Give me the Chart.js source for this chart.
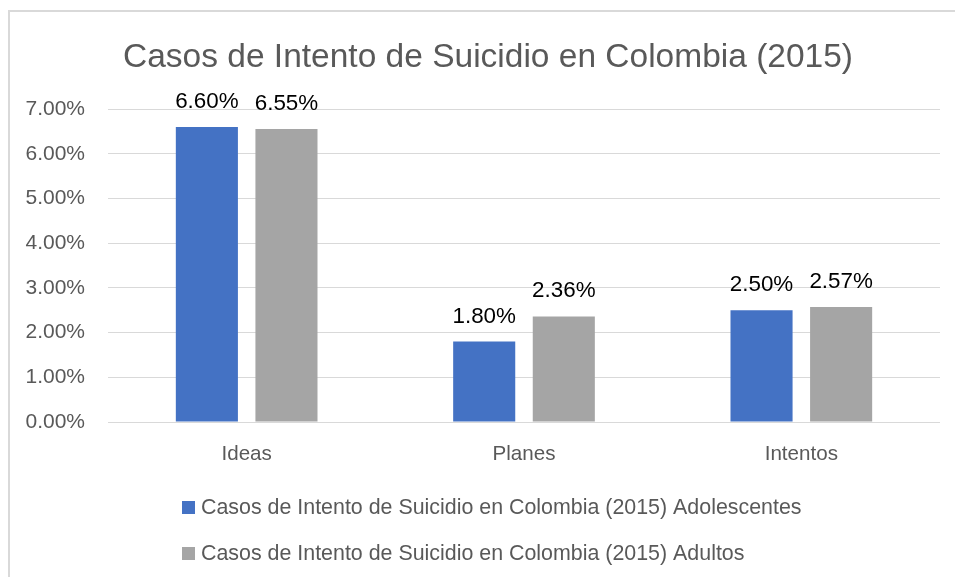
<!DOCTYPE html>
<html>
<head>
<meta charset="utf-8">
<script src="https://cdn.jsdelivr.net/npm/chart.js@4.4.1/dist/chart.umd.min.js"></script>
<style>
    html, body { margin: 0; padding: 0; background: #fff; }
    #wrap { position: relative; width: 955px; height: 577px; overflow: hidden; }
    #frame { position: absolute; left: 8px; top: 10px; right: -10px; bottom: -10px;
             border-left: 2px solid #d9d9d9; border-top: 2px solid #d9d9d9; }
    canvas { position: absolute; left: 0; top: 0; }
</style>
</head>
<body>
<div id="wrap">
    <div id="frame"></div>
    <canvas id="myChart" width="955" height="577"></canvas>
</div>
<script>
const chartTitle = "Casos de Intento de Suicidio en Colombia (2015)";
const categories = ["Ideas", "Planes", "Intentos"];
const seriesNames = [
    "Casos de Intento de Suicidio en Colombia (2015) Adolescentes",
    "Casos de Intento de Suicidio en Colombia (2015) Adultos"
];
const adolescentes = [6.60, 1.80, 2.50];
const adultos = [6.55, 2.36, 2.57];
const yTicks = [0, 1, 2, 3, 4, 5, 6, 7];

const fontFamily = "'Liberation Sans', Arial, sans-serif";
const textGray = "#595959";

// title drawn by hand so it sits a bit right of the canvas centre, as in the original
const titleText = {
    id: 'titleText',
    afterDraw(chart) {
        const ctx = chart.ctx;
        ctx.save();
        ctx.font = "33.5px " + fontFamily;
        ctx.fillStyle = textGray;
        ctx.textAlign = "center";
        ctx.textBaseline = "middle";
        ctx.fillText(chartTitle, 488, 58);
        ctx.restore();
    }
};

// value labels above every bar
const barLabels = {
    id: 'barLabels',
    afterDatasetsDraw(chart) {
        const ctx = chart.ctx;
        ctx.save();
        ctx.font = "22.4px " + fontFamily;
        ctx.fillStyle = "#000";
        ctx.textAlign = "center";
        ctx.textBaseline = "alphabetic";
        chart.data.datasets.forEach((ds, i) => {
            chart.getDatasetMeta(i).data.forEach((bar, j) => {
                ctx.fillText(ds.data[j].toFixed(2) + "%", bar.x, bar.y - 19);
            });
        });
        ctx.restore();
    }
};

// legend stacked in two left-aligned rows, like the original
const rowLegend = {
    id: 'rowLegend',
    afterDraw(chart) {
        const ctx = chart.ctx;
        ctx.save();
        ctx.font = "21.4px " + fontFamily;
        ctx.textBaseline = "middle";
        ctx.textAlign = "left";
        chart.data.datasets.forEach((ds, i) => {
            let y = 507 + i * 46;
            ctx.fillStyle = ds.backgroundColor;
            ctx.fillRect(182, y - 6, 13, 13);
            ctx.fillStyle = textGray;
            ctx.fillText(ds.label, 201, y + 1);
        });
        ctx.restore();
    }
};

new Chart(document.getElementById('myChart').getContext('2d'), {
    type: 'bar',
    data: {
        labels: categories,
        datasets: [{
            label: seriesNames[0],
            data: adolescentes,
            backgroundColor: "#4472C4",
            barPercentage: 0.78,
            categoryPercentage: 0.574
        }, {
            label: seriesNames[1],
            data: adultos,
            backgroundColor: "#A5A5A5",
            barPercentage: 0.78,
            categoryPercentage: 0.574
        }]
    },
    options: {
        responsive: false,
        animation: false,
        layout: {
            padding: { top: 109, right: 15, bottom: 0, left: 0 }
        },
        plugins: {
            legend: { display: false },
            tooltip: { enabled: false },
            title: { display: false }
        },
        scales: {
            x: {
                grid: { display: false, drawTicks: false },
                border: { display: false },
                ticks: {
                    color: textGray,
                    padding: 20,
                    font: { family: fontFamily, size: 20.6 }
                },
                afterFit(scale) { scale.height = 155; }
            },
            y: {
                min: 0,
                max: 7,
                afterBuildTicks(scale) {
                    scale.ticks = yTicks.map(v => ({ value: v }));
                },
                grid: { color: "#d9d9d9", lineWidth: 1, drawTicks: false },
                border: { display: false },
                ticks: {
                    color: textGray,
                    padding: 23,
                    font: { family: fontFamily, size: 21 },
                    callback: v => v.toFixed(2) + "%"
                },
                afterFit(scale) { scale.width = 108; }
            }
        }
    },
    plugins: [titleText, barLabels, rowLegend]
});
</script>
</body>
</html>
